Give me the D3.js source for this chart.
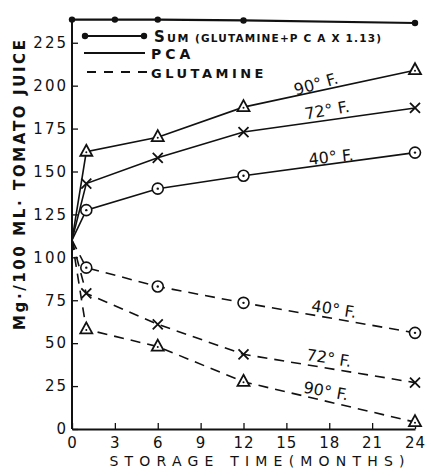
<!DOCTYPE html>
<html>
<head>
<meta charset="utf-8">
<script src="https://cdn.jsdelivr.net/npm/d3@7"></script>
<style>
  body { margin: 0; background: #fff; }
  svg { display: block; }
  text { font-family: "DejaVu Sans", sans-serif; fill: #111; }
</style>
</head>
<body>
<svg id="chart" width="430" height="474"></svg>
<script>
// Storage time (months)
const months = [0, 1, 6, 12, 24];
const sumMonths = [0, 3, 6, 12, 24];

// Mg./100 ml tomato juice
const sumValues = [238.5, 238.5, 238.5, 238, 236.5];
const pca90 = [110, 161.5, 170, 187.5, 209];
const pca72 = [110, 143, 158, 173, 187];
const pca40 = [110, 127.5, 140, 147.5, 161];
const glu40 = [110, 94, 83, 73.5, 56];
const glu72 = [110, 79, 61, 43.5, 27];
const glu90 = [110, 58, 48, 27.5, 4];

const xTicks = [0, 3, 6, 9, 12, 15, 18, 21, 24];
const yTicks = [0, 25, 50, 75, 100, 125, 150, 175, 200, 225];

const svg = d3.select('#chart');

const x = d3.scaleLinear().domain([0, 24]).range([72, 415]);
const y = d3.scaleLinear().domain([0, 240]).range([429, 17]);

// axes - ticks point inward
svg.append('g')
    .attr('class', 'xaxis')
    .attr('transform', 'translate(0,' + y(0) + ')')
    .call(d3.axisBottom(x).tickValues(xTicks).tickSize(-6).tickPadding(8).tickSizeOuter(0))
    .call(g => g.select('.domain').attr('stroke', '#111').attr('stroke-width', 2))
    .call(g => g.selectAll('.tick line').attr('stroke', '#111').attr('stroke-width', 1.3))
    .call(g => g.selectAll('.tick text').attr('font-size', 15).attr('letter-spacing', 1));

svg.append('g')
    .attr('class', 'yaxis')
    .attr('transform', 'translate(' + x(0) + ',0)')
    .call(d3.axisLeft(y).tickValues(yTicks).tickSize(-6).tickPadding(4).tickSizeOuter(0))
    .call(g => g.select('.domain').attr('stroke', '#111').attr('stroke-width', 2))
    .call(g => g.selectAll('.tick line').attr('stroke', '#111').attr('stroke-width', 1.3))
    .call(g => g.selectAll('.tick text').attr('font-size', 15).attr('letter-spacing', 2));

svg.select('.yaxis .domain').attr('d', 'M0,' + y(0) + 'V' + y(240));

const line = d3.line().x(d => x(d[0])).y(d => y(d[1]));
const pairs = (xs, ys) => xs.map((m, i) => [m, ys[i]]);

const drawSeries = (vals, dashed, marker) => {
    const pts = pairs(months, vals);
    svg.append('path')
        .attr('d', line(pts))
        .attr('fill', 'none')
        .attr('stroke', '#111')
        .attr('stroke-width', 1.6)
        .attr('stroke-dasharray', dashed ? '10,7' : null);
    const g = svg.append('g');
    pts.slice(1).forEach(p => {
        const cx = x(p[0]), cy = y(p[1]);
        if (marker === 'circle') {
            g.append('circle').attr('cx', cx).attr('cy', cy).attr('r', 5.5)
                .attr('fill', '#fff').attr('stroke', '#111').attr('stroke-width', 1.6);
            g.append('circle').attr('cx', cx).attr('cy', cy).attr('r', 1.2).attr('fill', '#111');
        } else if (marker === 'cross') {
            g.append('path').attr('d', `M${cx - 5},${cy - 5}L${cx + 5},${cy + 5}M${cx - 5},${cy + 5}L${cx + 5},${cy - 5}`)
                .attr('stroke', '#111').attr('stroke-width', 1.8);
        } else {
            g.append('path').attr('d', `M${cx},${cy - 7}L${cx + 6},${cy + 4}L${cx - 6},${cy + 4}Z`)
                .attr('fill', '#fff').attr('stroke', '#111').attr('stroke-width', 1.8);
            g.append('circle').attr('cx', cx).attr('cy', cy + 0.5).attr('r', 1).attr('fill', '#111');
        }
    });
};

drawSeries(pca90, false, 'triangle');
drawSeries(pca72, false, 'cross');
drawSeries(pca40, false, 'circle');
drawSeries(glu40, true, 'circle');
drawSeries(glu72, true, 'cross');
drawSeries(glu90, true, 'triangle');

// sum line
const sumPts = pairs(sumMonths, sumValues);
svg.append('path')
    .attr('d', line(sumPts))
    .attr('fill', 'none').attr('stroke', '#111').attr('stroke-width', 2.2);
svg.selectAll('.sumdot').data(sumPts).enter().append('circle')
    .attr('cx', d => x(d[0])).attr('cy', d => y(d[1])).attr('r', 3.2).attr('fill', '#111');

// legend
const lg = svg.append('g');
lg.append('line').attr('x1', 84).attr('x2', 145).attr('y1', 36).attr('y2', 36)
    .attr('stroke', '#111').attr('stroke-width', 2.2);
lg.append('circle').attr('cx', 85).attr('cy', 36).attr('r', 3.2).attr('fill', '#111');
lg.append('circle').attr('cx', 144).attr('cy', 36).attr('r', 3.2).attr('fill', '#111');
lg.append('text').attr('x', 154).attr('y', 42).attr('font-weight', 'bold')
    .attr('font-size', 15).text('S');
lg.append('text').attr('x', 167).attr('y', 42).attr('font-weight', 'bold')
    .attr('font-size', 11).attr('letter-spacing', 1.5).text('UM');
lg.append('text').attr('x', 195).attr('y', 42).attr('font-weight', 'bold')
    .attr('font-size', 10.5).attr('textLength', 186).attr('lengthAdjust', 'spacing')
    .text('(GLUTAMINE+P C A X 1.13)');

lg.append('line').attr('x1', 84).attr('x2', 145).attr('y1', 53).attr('y2', 53)
    .attr('stroke', '#111').attr('stroke-width', 1.8);
lg.append('text').attr('x', 151).attr('y', 59).attr('font-size', 14)
    .attr('font-weight', 'bold').attr('letter-spacing', 4).text('PCA');

lg.append('line').attr('x1', 87).attr('x2', 147).attr('y1', 72).attr('y2', 72)
    .attr('stroke', '#111').attr('stroke-width', 1.8).attr('stroke-dasharray', '9,8');
lg.append('text').attr('x', 151).attr('y', 78).attr('font-size', 13)
    .attr('font-weight', 'bold').attr('letter-spacing', 3.5).text('GLUTAMINE');

// temperature labels
const tempLabels = [
    { t: '90° F.', cx: 316, cy: 84, a: -16 },
    { t: '72° F.', cx: 327, cy: 110, a: -10 },
    { t: '40° F.', cx: 331, cy: 157, a: -6 },
    { t: '40° F.', cx: 334, cy: 309, a: 9 },
    { t: '72° F.', cx: 329, cy: 358, a: 9 },
    { t: '90° F.', cx: 326, cy: 391, a: 10 }
];
svg.selectAll('.temp').data(tempLabels).enter().append('text')
    .attr('transform', d => `translate(${d.cx},${d.cy}) rotate(${d.a})`)
    .attr('text-anchor', 'middle').attr('dy', '0.35em')
    .attr('font-size', 16).text(d => d.t);

// axis titles
svg.append('text')
    .attr('transform', 'translate(20,185) rotate(-90)')
    .attr('text-anchor', 'middle').attr('dy', '0.35em')
    .attr('font-size', 15).attr('font-weight', 'bold')
    .attr('textLength', 290).attr('lengthAdjust', 'spacing')
    .text('Mg·/100 ML· TOMATO JUICE');

svg.append('text')
    .attr('x', 257).attr('y', 466)
    .attr('text-anchor', 'middle')
    .attr('font-size', 14)
    .attr('textLength', 295).attr('lengthAdjust', 'spacing')
    .text('STORAGE TIME(MONTHS)');
</script>
</body>
</html>
